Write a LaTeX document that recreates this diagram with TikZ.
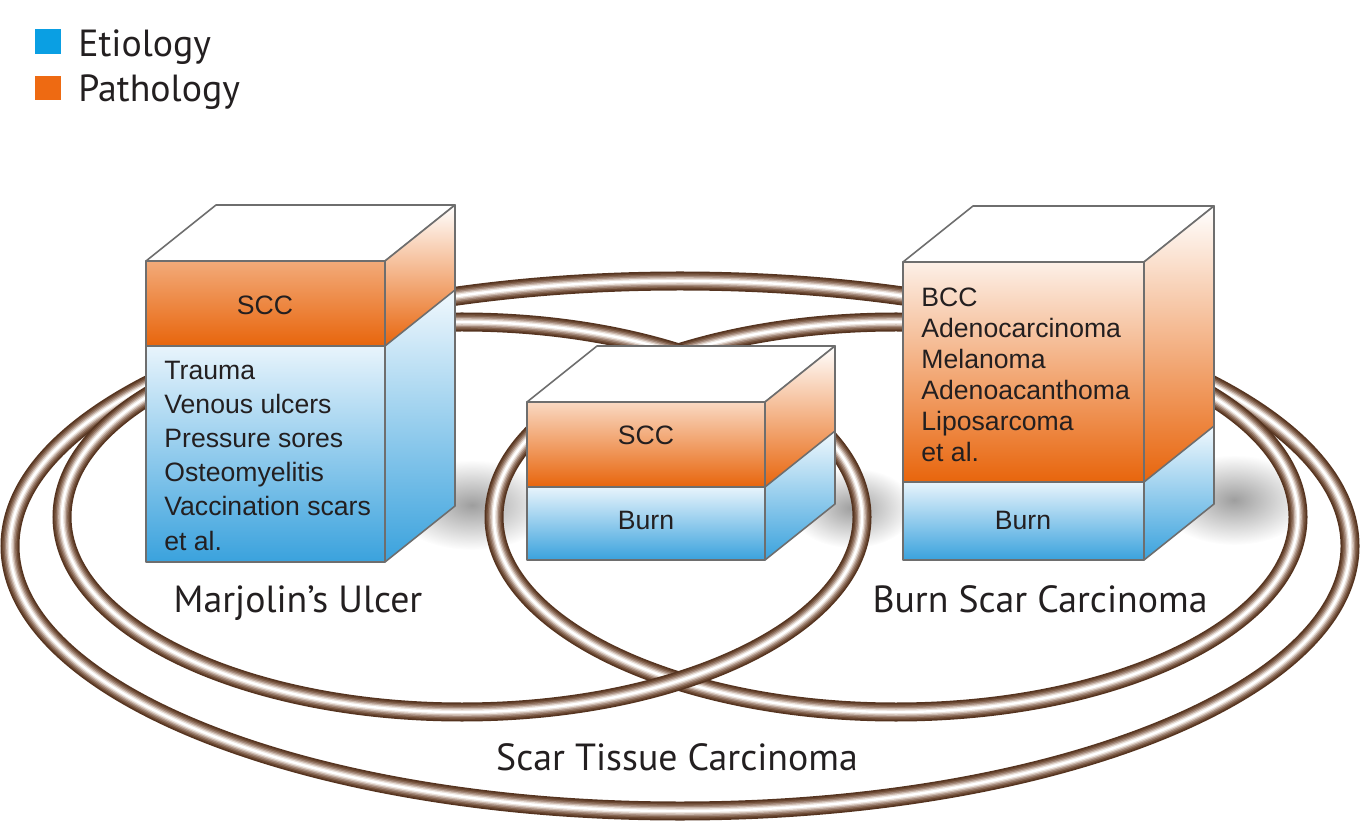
\documentclass[tikz,border=0pt]{standalone}
\usepackage{fontspec}
\setmainfont{Liberation Sans}
\newfontfamily\labfont{PT Sans}
\usetikzlibrary{fadings}
\definecolor{orangeD}{HTML}{E8650C}
\definecolor{blueD}{HTML}{3AA2DD}
\definecolor{blueL}{HTML}{E8F4FC}
\definecolor{legBlue}{HTML}{0A9FE3}
\definecolor{legOrange}{HTML}{EE6A12}
\definecolor{edgeC}{HTML}{6E6E6E}
\definecolor{txtC}{HTML}{231F20}
\definecolor{ringA}{HTML}{553420}
\definecolor{ringB}{HTML}{6A4732}
\definecolor{ringC}{HTML}{856550}
\definecolor{ringD}{HTML}{A3887A}
\definecolor{ringE}{HTML}{C8B5A9}
\definecolor{ringF}{HTML}{EAE1DB}
\tikzfading[name=fuzzy, inner color=transparent!0, outer color=transparent!100]
\tikzset{
  ring/.style={draw=white, line width=1.2pt,
    preaction={draw=ringA, line width=9.5pt},
    preaction={draw=ringB, line width=8pt},
    preaction={draw=ringC, line width=6.6pt},
    preaction={draw=ringD, line width=5.2pt},
    preaction={draw=ringE, line width=3.8pt},
    preaction={draw=ringF, line width=2.5pt}},
  edge/.style={draw=edgeC, line width=0.8pt, line join=round},
  boxtext/.style={inner sep=0pt, text=txtC, font=\fontsize{13.3}{16}\selectfont},
  labtext/.style={inner sep=0pt, text=txtC, font=\labfont\fontsize{18.9}{22}\selectfont},
  shadowfx/.style={fill=black!38, path fading=fuzzy}
}
\newcommand\drawcube[6]{%
  \filldraw[edge, fill=white] (#1,#3) -- (#1+70,#3-56) -- (#2+70,#3-56) -- (#2,#3) -- cycle;
  \shade[top color=#6, bottom color=orangeD] (#1,#3) rectangle (#2,#4);
  \shade[top color=blueL, bottom color=blueD] (#1,#4) rectangle (#2,#5);
  \shade[top color=white, bottom color=orangeD] (#2,#3) -- (#2+70,#3-56) -- (#2+70,#4-56) -- (#2,#4) -- cycle;
  \shade[top color=blueL!60!white, bottom color=blueD] (#2,#4) -- (#2+70,#4-56) -- (#2+70,#5-56) -- (#2,#5) -- cycle;
  \draw[edge] (#1,#3) rectangle (#2,#5);
  \draw[edge] (#1,#4) -- (#2,#4) -- (#2+70,#4-56);
  \draw[edge] (#2,#3) -- (#2+70,#3-56) -- (#2+70,#5-56) -- (#2,#5);
}
\begin{document}
\begin{tikzpicture}[x=0.5pt,y=-0.5pt]
\useasboundingbox (0,0) rectangle (1368,838);
% legend
\fill[legBlue] (35,29) rectangle (61,54);
\fill[legOrange] (35,76) rectangle (61,100);
\node[labtext, anchor=base west] (leg1) at (78,57) {Etiology};
\node[labtext, anchor=base west] (leg2) at (78,102) {Pathology};
% shadows
\fill[shadowfx] (472,505) ellipse [x radius=80, y radius=45];
\fill[shadowfx] (852,508) ellipse [x radius=62, y radius=40];
\fill[shadowfx] (1234,500) ellipse [x radius=75, y radius=45];
% rings
\draw[ring] (680,546) ellipse [x radius=670, y radius=265];
\draw[ring] (896,517) ellipse [x radius=402, y radius=195];
\draw[ring] (462,517) ellipse [x radius=400, y radius=195];
% cubes
\drawcube{146}{385}{261}{346}{562}{orangeD!55!white}
\drawcube{527}{765}{402}{487}{560}{orangeD!25!white}
\drawcube{903}{1144}{262}{482}{560}{orangeD!10!white}
% cube texts
\node[boxtext, anchor=base] (scc1) at (265,315) {SCC};
\foreach \t [count=\i] in {Trauma, Venous ulcers, Pressure sores, Osteomyelitis, Vaccination scars, et al.}
  \node[boxtext, anchor=base west] (mu\i) at (164,{380+34*(\i-1)}) {\t};
\node[boxtext, anchor=base] (scc2) at (646,445) {SCC};
\node[boxtext, anchor=base] (burn2) at (646,530) {Burn};
\foreach \t [count=\i] in {BCC, Adenocarcinoma, Melanoma, Adenoacanthoma, Liposarcoma, et al.}
  \node[boxtext, anchor=base west] (bs\i) at (921,{307+31*(\i-1)}) {\t};
\node[boxtext, anchor=base] (burn3) at (1023,530) {Burn};
% labels
\node[labtext, anchor=base] (mlab) at (298,612) {Marjolin’s Ulcer};
\node[labtext, anchor=base] (blab) at (1040,612) {Burn Scar Carcinoma};
\node[labtext, anchor=base] (slab) at (677,770) {Scar Tissue Carcinoma};
\end{tikzpicture}
\end{document}
